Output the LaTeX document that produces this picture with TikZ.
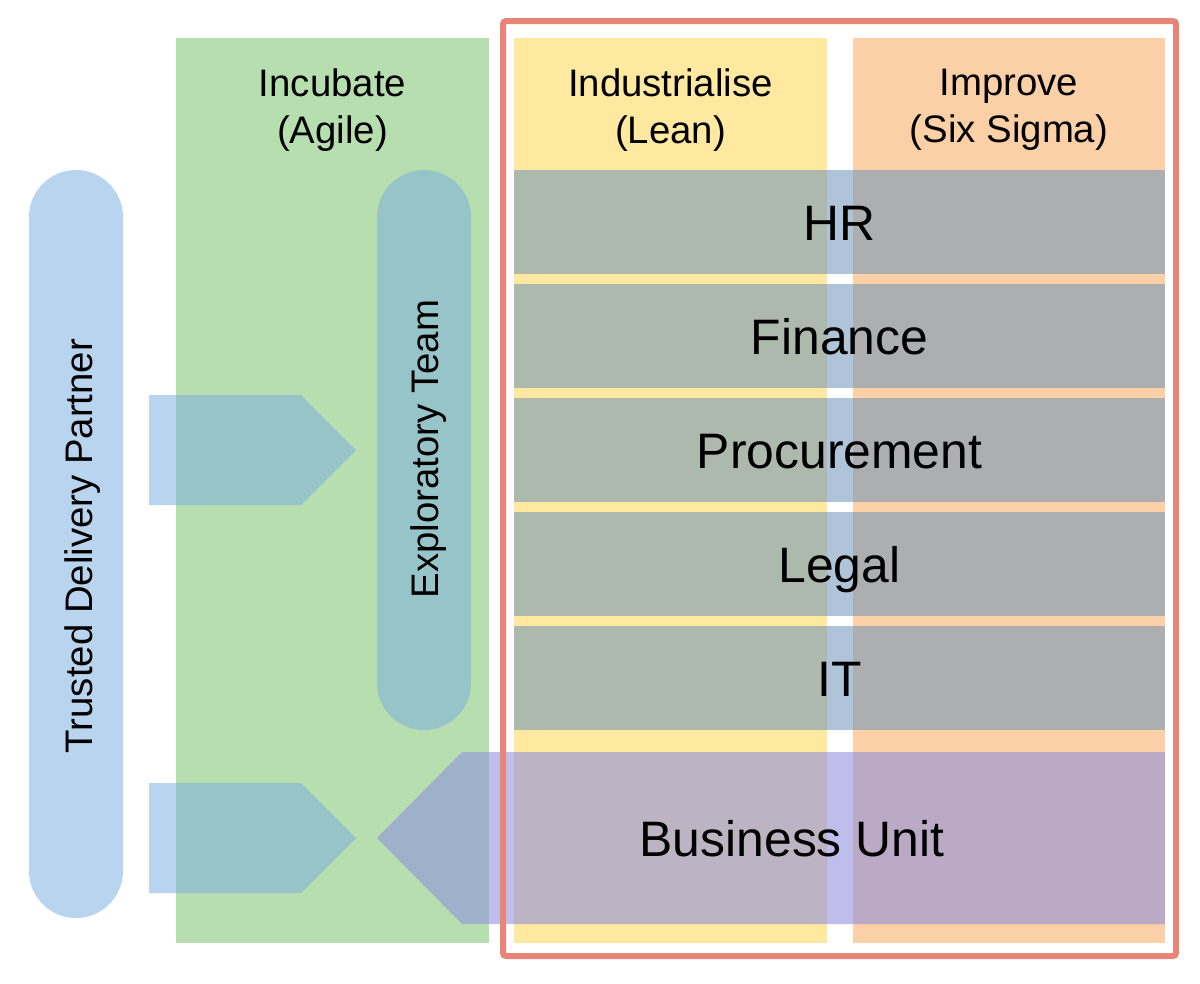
\documentclass[tikz,border=0pt]{standalone}
\usepackage{fontspec}
\setmainfont{Liberation Sans}
\usepackage{tikz}
\definecolor{incgreen}{RGB}{183,222,175}
\definecolor{leanyellow}{RGB}{255,232,160}
\definecolor{sigmaorange}{RGB}{251,208,167}
\definecolor{framered}{RGB}{232,133,120}
\definecolor{partnerblue}{RGB}{123,174,223}
\definecolor{deptgray}{RGB}{109,147,184}
\definecolor{unitviolet}{RGB}{141,143,222}
\tikzset{every picture/.style={line width=0.75pt}}
\tikzset{
  head/.style={font=\fontsize{38.5}{47}\selectfont, align=center},
  dept/.style={font=\fontsize{50}{60}\selectfont, anchor=base},
  side/.style={font=\fontsize{38.5}{47}\selectfont, anchor=base, rotate=90},
  blue part/.style={fill=partnerblue, fill opacity=0.53},
  dept part/.style={fill=deptgray, fill opacity=0.55},
  unit part/.style={fill=unitviolet, fill opacity=0.58}
}

\begin{document}
\begin{tikzpicture}[x=1bp, y=-1bp]
    \useasboundingbox (0,0) rectangle (1200,984);

    % 三个阶段
    \fill[incgreen] (176,38) rectangle (489,943);
    \fill[leanyellow] (514,38) rectangle (827,943);
    \fill[sigmaorange] (853,38) rectangle (1165,943);
    \node[head] (incubate) at (332.5,110) {Incubate\\(Agile)};
    \node[head] (industrialise) at (670.5,110) {Industrialise\\(Lean)};
    \node[head] (improve) at (1009,110) {Improve\\(Six Sigma)};

    % 合作伙伴与探索团队
    \fill[blue part, rounded corners=47bp] (29,170) rectangle (123,918);
    \fill[blue part, rounded corners=47bp] (377,170) rectangle (471,730);
    \fill[blue part] (149,395) -- (301,395) -- (356,450) -- (301,505) -- (149,505) -- cycle;
    \fill[blue part] (149,783) -- (301,783) -- (356,838) -- (301,893) -- (149,893) -- cycle;
    \node[side] (partner) at (92,546) {Trusted Delivery Partner};
    \node[side] (team) at (438.5,449) {Exploratory Team};

    % 职能部门
    \fill[dept part] (514,170) rectangle (1165,274);
    \fill[dept part] (514,284) rectangle (1165,388);
    \fill[dept part] (514,398) rectangle (1165,502);
    \fill[dept part] (514,512) rectangle (1165,616);
    \fill[dept part] (514,626) rectangle (1165,730);
    \node[dept] (hr) at (839.5,240) {HR};
    \node[dept] (finance) at (839.5,354) {Finance};
    \node[dept] (procurement) at (839.5,468) {Procurement};
    \node[dept] (legal) at (839.5,582) {Legal};
    \node[dept] (it) at (839.5,696) {IT};

    % 业务单元
    \fill[unit part] (377,838) -- (462,752) -- (1165,752) -- (1165,924) -- (462,924) -- cycle;
    \node[dept] (unit) at (792,856) {Business Unit};

    % 外框
    \draw[framered, line width=6bp, rounded corners=3bp] (503,21) rectangle (1176,956);
\end{tikzpicture}
\end{document}
